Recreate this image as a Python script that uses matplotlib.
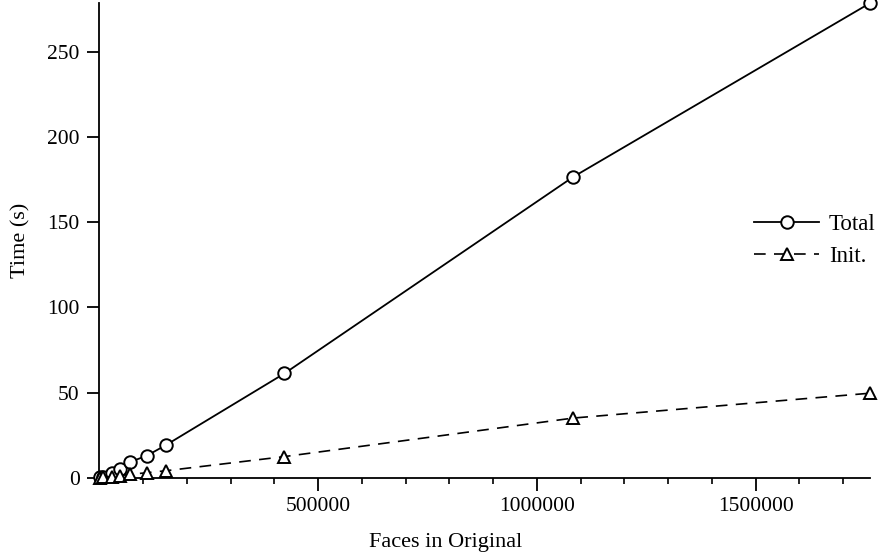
import matplotlib
matplotlib.use("Agg")
import matplotlib.pyplot as plt
from matplotlib.ticker import MultipleLocator, FixedLocator, FuncFormatter

faces = [2000, 9400, 28600, 47600, 70400, 108600, 152800, 423400, 1083000, 1762000]
total = [0.2, 0.6, 2.6, 5.3, 9.2, 12.9, 19.2, 61.2, 176.5, 278.6]
init = [0.05, 0.2, 0.6, 1.2, 2.0, 2.9, 4.1, 12.4, 35.0, 49.6]

plt.rcParams['font.family'] = ['Liberation Serif', 'DejaVu Serif']

fig = plt.figure(figsize=(8.79, 5.58), dpi=100)
ax = fig.add_axes([0.1129, 0.1439, 0.8771, 0.8507])

ax.plot(faces, total, color='black', lw=1.3, marker='o', markersize=9,
        markerfacecolor='white', markeredgecolor='black', markeredgewidth=1.4,
        label='Total', clip_on=False, zorder=3)
ax.plot(faces, init, color='black', lw=1.2, linestyle=(0, (7, 5)), marker='^',
        markersize=8, markerfacecolor='white', markeredgecolor='black',
        markeredgewidth=1.4, label='Init.', clip_on=False, zorder=3)

ax.set_xlim(0, faces[-1])
ax.set_ylim(0, total[-1])

ax.xaxis.set_major_locator(FixedLocator([500000, 1000000, 1500000]))
ax.xaxis.set_minor_locator(MultipleLocator(100000))
ax.xaxis.set_major_formatter(FuncFormatter(lambda v, p: f"{int(round(v))}"))
ax.yaxis.set_major_locator(MultipleLocator(50))

for s in ['top', 'right']:
    ax.spines[s].set_visible(False)
for s in ['left', 'bottom']:
    ax.spines[s].set_linewidth(1.3)

ax.tick_params(axis='both', which='major', direction='out', length=9, width=1.3,
               labelsize=15.5, pad=5)
ax.tick_params(axis='x', which='minor', direction='out', length=4.5, width=1.2)

ax.set_xlabel('Faces in Original', fontsize=16)
ax.xaxis.set_label_coords(0.449, -0.117)
ax.set_ylabel('Time (s)', fontsize=16, labelpad=12)

leg = ax.legend(loc='center right', bbox_to_anchor=(1.019, 0.5), frameon=False,
                fontsize=16.5, handlelength=2.8, handletextpad=0.45, labelspacing=0.45,
                borderaxespad=0)

fig.savefig('out.png', dpi=100)
